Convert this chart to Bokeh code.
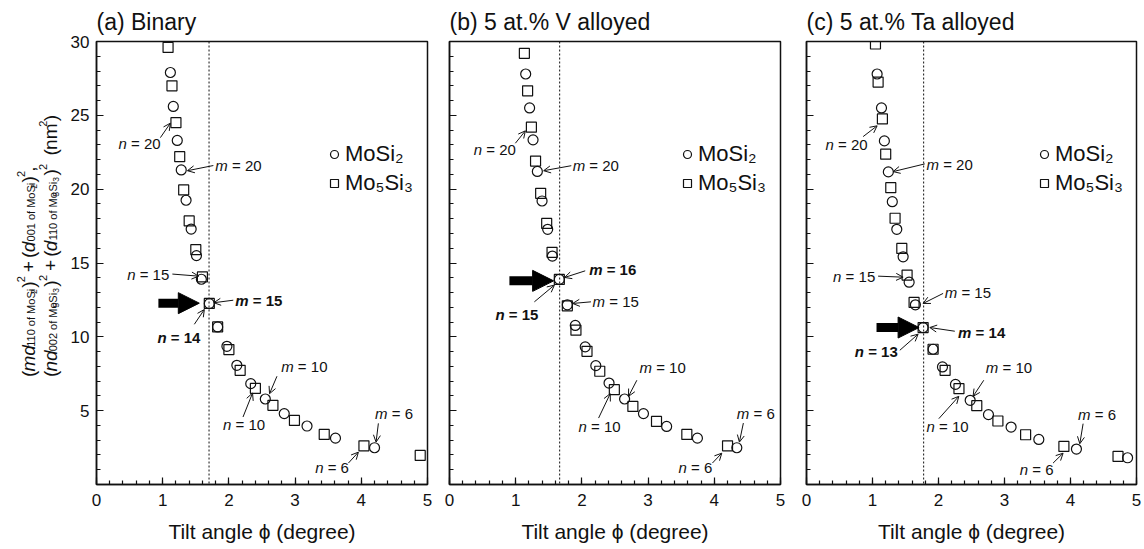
from bokeh.plotting import figure
from bokeh.models import (Range1d, FixedTicker, Label, Arrow, OpenHead, NormalHead,
                          Span, Legend, LegendItem)
from bokeh.layouts import row
from bokeh.embed import file_html
from bokeh.resources import INLINE

FONT = "Liberation Sans"

# ---------------- data ----------------
x_ticks = [0, 1, 2, 3, 4, 5]
y_ticks = [5, 10, 15, 20, 25, 30]
series_names = ["MoSi₂", "Mo₅Si₃"]
panel_titles = ["(a) Binary", "(b) 5 at.% V alloyed", "(c) 5 at.% Ta alloyed"]

# (a) Binary
a_mosi2_x = [1.116, 1.16, 1.22, 1.28, 1.353, 1.43, 1.51, 1.584, 1.704, 1.83, 1.97, 2.12,
             2.33, 2.55, 2.836, 3.18, 3.61, 4.20]
a_mosi2_y = [27.9, 25.6, 23.3, 21.3, 19.25, 17.3, 15.5, 13.9, 12.25, 10.67, 9.36, 8.07,
             6.83, 5.79, 4.80, 3.96, 3.14, 2.49]
a_mo5si3_x = [1.081, 1.14, 1.20, 1.257, 1.317, 1.40, 1.50, 1.60, 1.704, 1.83, 2.0, 2.17,
              2.40, 2.665, 2.99, 3.44, 4.04, 4.89]
a_mo5si3_y = [29.6, 27.0, 24.5, 22.2, 19.95, 17.85, 15.9, 14.06, 12.26, 10.67, 9.14, 7.73,
              6.51, 5.36, 4.34, 3.39, 2.62, 1.97]
a_vline = 1.70

# (b) 5 at.% V alloyed
b_mosi2_x = [1.151, 1.21, 1.262, 1.327, 1.398, 1.483, 1.554, 1.659, 1.78, 1.90, 2.05, 2.21,
             2.41, 2.645, 2.93, 3.28, 3.745, 4.34]
b_mosi2_y = [27.8, 25.5, 23.34, 21.2, 19.2, 17.28, 15.47, 13.89, 12.17, 10.77, 9.32, 8.05,
             6.87, 5.79, 4.80, 3.93, 3.14, 2.49]
b_mo5si3_x = [1.131, 1.18, 1.237, 1.30, 1.377, 1.468, 1.549, 1.659, 1.78, 1.91, 2.077, 2.27,
              2.49, 2.77, 3.127, 3.585, 4.20]
b_mo5si3_y = [29.2, 26.66, 24.2, 21.9, 19.72, 17.68, 15.72, 13.89, 12.1, 10.45, 9.02, 7.67,
              6.42, 5.29, 4.27, 3.39, 2.62]
b_vline = 1.664

# (c) 5 at.% Ta alloyed
c_mosi2_x = [1.07, 1.136, 1.18, 1.24, 1.30, 1.368, 1.464, 1.555, 1.65, 1.767, 1.918, 2.06,
             2.257, 2.48, 2.757, 3.10, 3.52, 4.09, 4.865]
c_mosi2_y = [27.8, 25.5, 23.27, 21.17, 19.15, 17.28, 15.42, 13.7, 12.17, 10.63, 9.16, 7.96,
             6.78, 5.70, 4.73, 3.89, 3.05, 2.40, 1.81]
c_mo5si3_x = [1.045, 1.085, 1.15, 1.20, 1.277, 1.342, 1.444, 1.524, 1.63, 1.767, 1.918, 2.10,
              2.31, 2.58, 2.90, 3.32, 3.90, 4.72]
c_mo5si3_y = [29.83, 27.25, 24.76, 22.37, 20.1, 18.03, 15.99, 14.18, 12.33, 10.63, 9.16, 7.73,
              6.49, 5.34, 4.30, 3.37, 2.58, 1.90]
c_vline = 1.775

# annotation texts: (variable, rest, bold, text x, text y, arrow x0, y0, x1, y1)
a_notes = [("n", "= 20", False, 0.332, 23.07, 0.965, 23.49, 1.116, 24.47),
           ("m", "= 20", False, 1.795, 21.59, 1.765, 21.6, 1.373, 21.25),
           ("n", "= 15", False, 0.463, 14.25, 1.146, 14.25, 1.543, 14.11),
           ("m", "= 15", True, 2.097, 12.48, 2.066, 12.48, 1.772, 12.31),
           ("n", "= 14", True, 0.92, 9.93, 1.478, 10.85, 1.629, 11.85),
           ("m", "= 10", False, 2.79, 7.96, 2.726, 7.33, 2.614, 6.15),
           ("n", "= 10", False, 1.91, 4.07, 2.213, 4.57, 2.357, 6.19),
           ("m", "= 6", False, 4.208, 4.82, 4.258, 4.14, 4.223, 2.87),
           ("n", "= 6", False, 3.303, 1.17, 3.805, 1.45, 3.956, 2.19)]
b_notes = [("n", "= 20", False, 0.367, 22.66, 0.995, 23.11, 1.146, 23.95),
           ("m", "= 20", False, 1.86, 21.59, 1.84, 21.59, 1.422, 21.25),
           ("m", "= 16", True, 2.11, 14.57, 2.05, 14.47, 1.739, 14.02),
           ("n", "= 15", True, 0.694, 11.51, 1.282, 12.37, 1.584, 13.5),
           ("m", "= 15", False, 2.161, 12.37, 2.137, 12.37, 1.86, 12.26),
           ("m", "= 10", False, 2.87, 7.89, 2.83, 7.06, 2.704, 5.97),
           ("n", "= 10", False, 1.95, 3.96, 2.252, 4.5, 2.428, 6.15),
           ("m", "= 6", False, 4.34, 4.80, 4.439, 4.16, 4.379, 2.87),
           ("n", "= 6", False, 3.459, 1.13, 3.971, 1.45, 4.113, 2.12)]
c_notes = [("n", "= 20", False, 0.288, 23.05, 0.858, 23.56, 1.07, 24.29),
           ("m", "= 20", False, 1.818, 21.69, 1.792, 21.71, 1.312, 21.19),
           ("n", "= 15", False, 0.403, 14.11, 1.085, 14.11, 1.464, 14.04),
           ("m", "= 15", False, 2.095, 12.98, 2.07, 12.94, 1.767, 12.26),
           ("m", "= 14", True, 2.297, 10.31, 2.247, 10.38, 1.868, 10.63),
           ("n", "= 13", True, 0.732, 8.98, 1.414, 9.09, 1.691, 10.18),
           ("m", "= 10", False, 2.717, 7.89, 2.686, 7.06, 2.524, 5.97),
           ("n", "= 10", False, 1.818, 3.96, 2.005, 4.46, 2.308, 5.97),
           ("m", "= 6", False, 4.115, 4.75, 4.191, 4.12, 4.141, 2.76),
           ("n", "= 6", False, 3.232, 1.02, 3.736, 1.45, 3.888, 2.12)]
# thick arrows: (tail x, tip x, y)
a_big = (0.935, 1.553, 12.28)
b_big = (0.905, 1.573, 13.79)
c_big = (1.061, 1.706, 10.63)

# ---------------- helpers ----------------
AW = {' ': 278, '(': 333, ')': 333, '+': 584, ',': 278, '=': 584, '.': 278,
      'M': 833, 'S': 667, 'a': 556, 'd': 556, 'f': 278, 'i': 222, 'm': 833,
      'n': 556, 'o': 556}
ABW = {' ': 278, '=': 584, 'm': 889, 'n': 611}


def tw(s, size, bold=False):
    tab = ABW if bold else AW
    return sum(tab.get(ch, AW.get(ch, 556)) for ch in s) / 1000.0 * size


FRAME_H = 443
TOP, BOTTOM = 41, 60
FIG_H = TOP + FRAME_H + BOTTOM
INK = "#111111"


def make_panel(title, mx, my, sx, sy, vline, notes, big, bl, br, fw, show_ylabels):
    p = figure(frame_width=fw, frame_height=FRAME_H,
               x_range=Range1d(0, 5), y_range=Range1d(0, 30),
               output_backend="svg", toolbar_location=None,
               min_border_left=bl, min_border_right=br,
               min_border_top=TOP, min_border_bottom=BOTTOM,
               background_fill_color="white", border_fill_color="white")
    p.grid.visible = False
    p.outline_line_color = INK
    p.outline_line_width = 1.5

    p.title.text = title
    p.title.text_font = FONT
    p.title.text_font_size = "23px"
    p.title.text_font_style = "normal"
    p.title.text_color = INK
    p.title.align = "left"
    p.title.offset = 0
    p.title.standoff = 13

    for ax in (p.xaxis[0], p.yaxis[0]):
        ax.axis_line_color = INK
        ax.axis_line_width = 1.5
        ax.major_tick_in = 7
        ax.major_tick_out = 0
        ax.minor_tick_in = 4
        ax.minor_tick_out = 0
        ax.major_tick_line_color = INK
        ax.minor_tick_line_color = INK
        ax.major_tick_line_width = 1.2
        ax.minor_tick_line_width = 1.2
        ax.major_label_text_font = FONT
        ax.major_label_text_font_size = "17px"
        ax.major_label_text_color = INK
        ax.major_label_standoff = 7
    p.xaxis.major_label_standoff = 9

    p.xaxis.ticker = FixedTicker(ticks=x_ticks, minor_ticks=[i * 0.2 for i in range(26)])
    p.yaxis.ticker = FixedTicker(ticks=y_ticks, minor_ticks=list(range(0, 31)))
    p.xaxis.axis_label = "Tilt angle ϕ (degree)"
    p.xaxis.axis_label_text_font = FONT
    p.xaxis.axis_label_text_font_size = "21px"
    p.xaxis.axis_label_text_font_style = "normal"
    p.xaxis.axis_label_text_color = INK
    p.xaxis.axis_label_standoff = 11
    if not show_ylabels:
        p.yaxis.major_label_text_font_size = "0px"
        p.yaxis.major_label_text_color = None

    p.add_layout(Span(location=vline, dimension="height", line_color=INK,
                      line_width=1, line_dash="2 2"))

    rs = p.scatter(sx, sy, marker="square", size=10, fill_color=None,
                   line_color=INK, line_width=1.2)
    rc = p.scatter(mx, my, marker="circle", size=10, fill_color=None,
                   line_color=INK, line_width=1.2)

    for var, rest, bold, tx, ty, x0, y0, x1, y1 in notes:
        p.add_layout(Label(x=tx, y=ty, text=var, text_font=FONT, text_font_size="15px",
                           text_font_style="bold italic" if bold else "italic",
                           text_baseline="middle", text_align="left", text_color=INK))
        off = tw(var, 15, bold) + tw(" ", 15, bold)
        p.add_layout(Label(x=tx, y=ty, x_offset=off, text=rest, text_font=FONT,
                           text_font_size="15px",
                           text_font_style="bold" if bold else "normal",
                           text_baseline="middle", text_align="left", text_color=INK))
        p.add_layout(Arrow(x_start=x0, y_start=y0, x_end=x1, y_end=y1,
                           line_width=1, line_color=INK,
                           end=OpenHead(size=7, line_width=1, line_color=INK)))

    bx0, bx1, by = big
    p.add_layout(Arrow(x_start=bx0, y_start=by, x_end=bx1, y_end=by,
                       line_width=9, line_color="black",
                       end=NormalHead(size=21, fill_color="black",
                                      line_color="black", line_width=1)))

    leg = Legend(items=[LegendItem(label=series_names[0], renderers=[rc]),
                        LegendItem(label=series_names[1], renderers=[rs])],
                 location=(228, 288), label_text_font=FONT, label_text_font_size="22px",
                 label_text_color=INK, glyph_width=20, glyph_height=24, label_height=24,
                 spacing=3, padding=0, margin=0, border_line_color=None,
                 background_fill_alpha=0, label_standoff=1)
    p.add_layout(leg)
    return p


LAB_W = 66
pa = make_panel(panel_titles[0], a_mosi2_x, a_mosi2_y, a_mo5si3_x, a_mo5si3_y, a_vline,
                a_notes, a_big, 96 - LAB_W, 11, 331, True)
pb = make_panel(panel_titles[1], b_mosi2_x, b_mosi2_y, b_mo5si3_x, b_mo5si3_y, b_vline,
                b_notes, b_big, 11, 13, 331, False)
pc = make_panel(panel_titles[2], c_mosi2_x, c_mosi2_y, c_mo5si3_x, c_mo5si3_y, c_vline,
                c_notes, c_big, 13, 6, 330, False)

# ---------------- rotated, two-line y-axis label in its own narrow strip ----------------
pl = figure(title=None, width=LAB_W, height=FIG_H, x_range=Range1d(0, LAB_W),
            y_range=Range1d(0, FIG_H), output_backend="svg", toolbar_location=None,
            min_border_left=0, min_border_right=0, min_border_top=0, min_border_bottom=0,
            x_axis_location=None, y_axis_location=None,
            background_fill_color="white", border_fill_color="white")
pl.grid.visible = False
pl.outline_line_color = None

MAIN, SUB, SS, SUP = 19, 11, 8.5, 11
SH_SUB, SH_SS, SH_SUP = 3, 6, -7
ADV = 1.08   # rotated pieces render a little wider than the Arial table


def seg_line(parts, base_x, start_y):
    cur = start_y
    for text, size, shift, style, gap in parts:
        w = tw(text, size) * ADV + gap
        if style is not None:
            pl.add_layout(Label(x=base_x + shift, y=FIG_H - cur,
                                text=text, angle=1.5707963267948966,
                                text_font=FONT, text_font_size=f"{size}px",
                                text_font_style=style, text_color=INK,
                                text_baseline="alphabetic", text_align="left"))
        cur -= w
    return cur


line1 = [("(", MAIN, 0, "normal", 0), ("md", MAIN, 0, "italic", 2),
         ("110 of MoSi", SUB, SH_SUB, "normal", 1.5), ("2", SS, SH_SS, "normal", 2.5),
         (")", MAIN, 0, "normal", 0), ("2", SUP, SH_SUP, "normal", 0),
         (" ", MAIN, 0, None, 0), ("+", MAIN, 0, "normal", 0), (" ", MAIN, 0, None, 0),
         ("(", MAIN, 0, "normal", 0), ("d", MAIN, 0, "italic", 2),
         ("001 of MoSi", SUB, SH_SUB, "normal", 1.5), ("2", SS, SH_SS, "normal", 2.5),
         (")", MAIN, 0, "normal", 0), ("2", SUP, SH_SUP, "normal", 0),
         (",", MAIN, 0, "normal", 0)]
line2 = [("(", MAIN, 0, "normal", 0), ("nd", MAIN, 0, "italic", 2),
         ("002 of Mo", SUB, SH_SUB, "normal", 1), ("5", SS, SH_SS, "normal", 1),
         ("Si", SUB, SH_SUB, "normal", 1.5), ("3", SS, SH_SS, "normal", 2.5),
         (")", MAIN, 0, "normal", 0), ("2", SUP, SH_SUP, "normal", 0),
         (" ", MAIN, 0, None, 0), ("+", MAIN, 0, "normal", 0), (" ", MAIN, 0, None, 0),
         ("(", MAIN, 0, "normal", 0), ("d", MAIN, 0, "italic", 2),
         ("110 of Mo", SUB, SH_SUB, "normal", 1), ("5", SS, SH_SS, "normal", 1),
         ("Si", SUB, SH_SUB, "normal", 1.5), ("3", SS, SH_SS, "normal", 2.5),
         (")", MAIN, 0, "normal", 0), ("2", SUP, SH_SUP, "normal", 0),
         ("  ", MAIN, 0, None, 0),
         ("(", MAIN, 0, "normal", 0), ("nm", MAIN, 0, "normal", 0),
         ("2", SUP, SH_SUP, "normal", 0), (")", MAIN, 0, "normal", 0)]
seg_line(line1, 27.5, 413)
seg_line(line2, 49.5, 413)

layout = row(pl, pa, pb, pc, spacing=0)
open("out.html", "w").write(file_html(layout, INLINE))
